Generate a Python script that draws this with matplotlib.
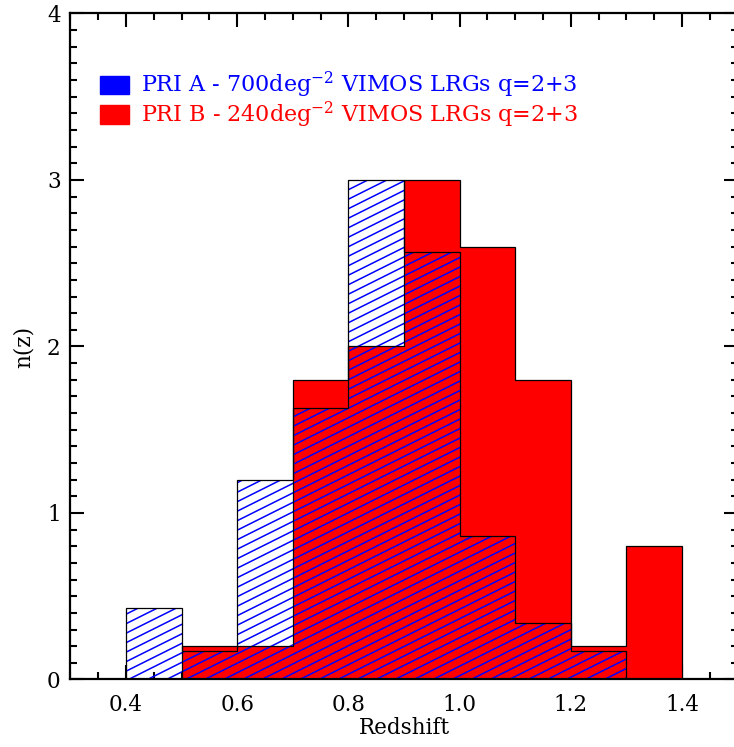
import numpy as np
import matplotlib
matplotlib.use("Agg")
import matplotlib.pyplot as plt
from matplotlib.patches import Patch
from matplotlib.collections import LineCollection
from matplotlib.ticker import MultipleLocator

plt.rcParams['font.family'] = ['DejaVu Serif']
plt.rcParams['mathtext.default'] = 'regular'

# n(z) histograms, bins of width 0.1 from z=0.4 to z=1.4
bin_edges = [0.4, 0.5, 0.6, 0.7, 0.8, 0.9, 1.0, 1.1, 1.2, 1.3, 1.4]
pri_a = [0.43, 0.17, 1.20, 1.63, 3.00, 2.57, 0.86, 0.34, 0.17, 0.00]
pri_b = [0.00, 0.20, 0.20, 1.80, 2.00, 3.00, 2.60, 1.80, 0.20, 0.80]
labels = ['PRI A - 700deg$^{-2}$ VIMOS LRGs q=2+3',
          'PRI B - 240deg$^{-2}$ VIMOS LRGs q=2+3']
fs = 15.5

bin_left = bin_edges[:-1]
width = np.diff(bin_edges)

fig = plt.figure(figsize=(7.34, 7.47), dpi=100)
ax = fig.add_axes([0.0959, 0.0904, 0.909, 0.8916])

# red histogram (filled)
ax.bar(bin_left, pri_b, width=width, align='edge', color='#ff0000',
       edgecolor='none', zorder=1)

# blue histogram: hatch lines only, clipped to each bar
slope = 0.5
step = 9.5 / 666.0
offsets = np.arange(-slope - step, 1.0 + step, step)
segs = [[(0, y0), (1, y0 + slope)] for y0 in offsets]
bars_a = ax.bar(bin_left, pri_a, width=width, align='edge', color='none',
                edgecolor='none', zorder=2)
for rect in bars_a:
    lc = LineCollection(segs, colors='#0000ff', linewidths=1.1,
                        transform=ax.transAxes, zorder=2)
    ax.add_collection(lc, autolim=False)
    lc.set_clip_path(rect)

# step outlines on top
ax.stairs(pri_b, bin_edges, baseline=0, color='black', linewidth=0.9, zorder=3)
ax.stairs(pri_a, bin_edges, baseline=0, color='black', linewidth=0.9, zorder=3)

ax.set_xlim(0.3, 1.5)
ax.set_ylim(0, 4)
ax.xaxis.set_minor_locator(MultipleLocator(0.05))
ax.yaxis.set_major_locator(MultipleLocator(1))
ax.yaxis.set_minor_locator(MultipleLocator(0.1))
ax.set_xticks([0.4, 0.6, 0.8, 1.0, 1.2, 1.4])
ax.set_xticklabels(['0.4', '0.6', '0.8', '1.0', '1.2', '1.4'])
ax.set_axisbelow(True)
ax.tick_params(which='both', direction='in', top=True, right=True,
               width=1.5, labelsize=fs)
ax.tick_params(axis='x', which='both', pad=10.5)
ax.tick_params(axis='y', which='both', pad=7)
ax.tick_params(which='major', length=10)
ax.tick_params(which='minor', length=5)
for s in ax.spines.values():
    s.set_linewidth(1.6)

ax.set_xlabel('Redshift', fontsize=fs, labelpad=1)
ax.set_ylabel('n(z)', fontsize=fs, labelpad=9)

handles = [Patch(color='#0000ff'), Patch(color='#ff0000')]
ax.legend(handles, labels, loc='upper left', bbox_to_anchor=(0.044, 0.915),
          frameon=False, fontsize=16, labelcolor=['#0000ff', '#ff0000'],
          handlelength=1.3, handleheight=0.9, handletextpad=0.55,
          labelspacing=-0.03, borderaxespad=0, borderpad=0)

fig.savefig('out.png', dpi=100)
